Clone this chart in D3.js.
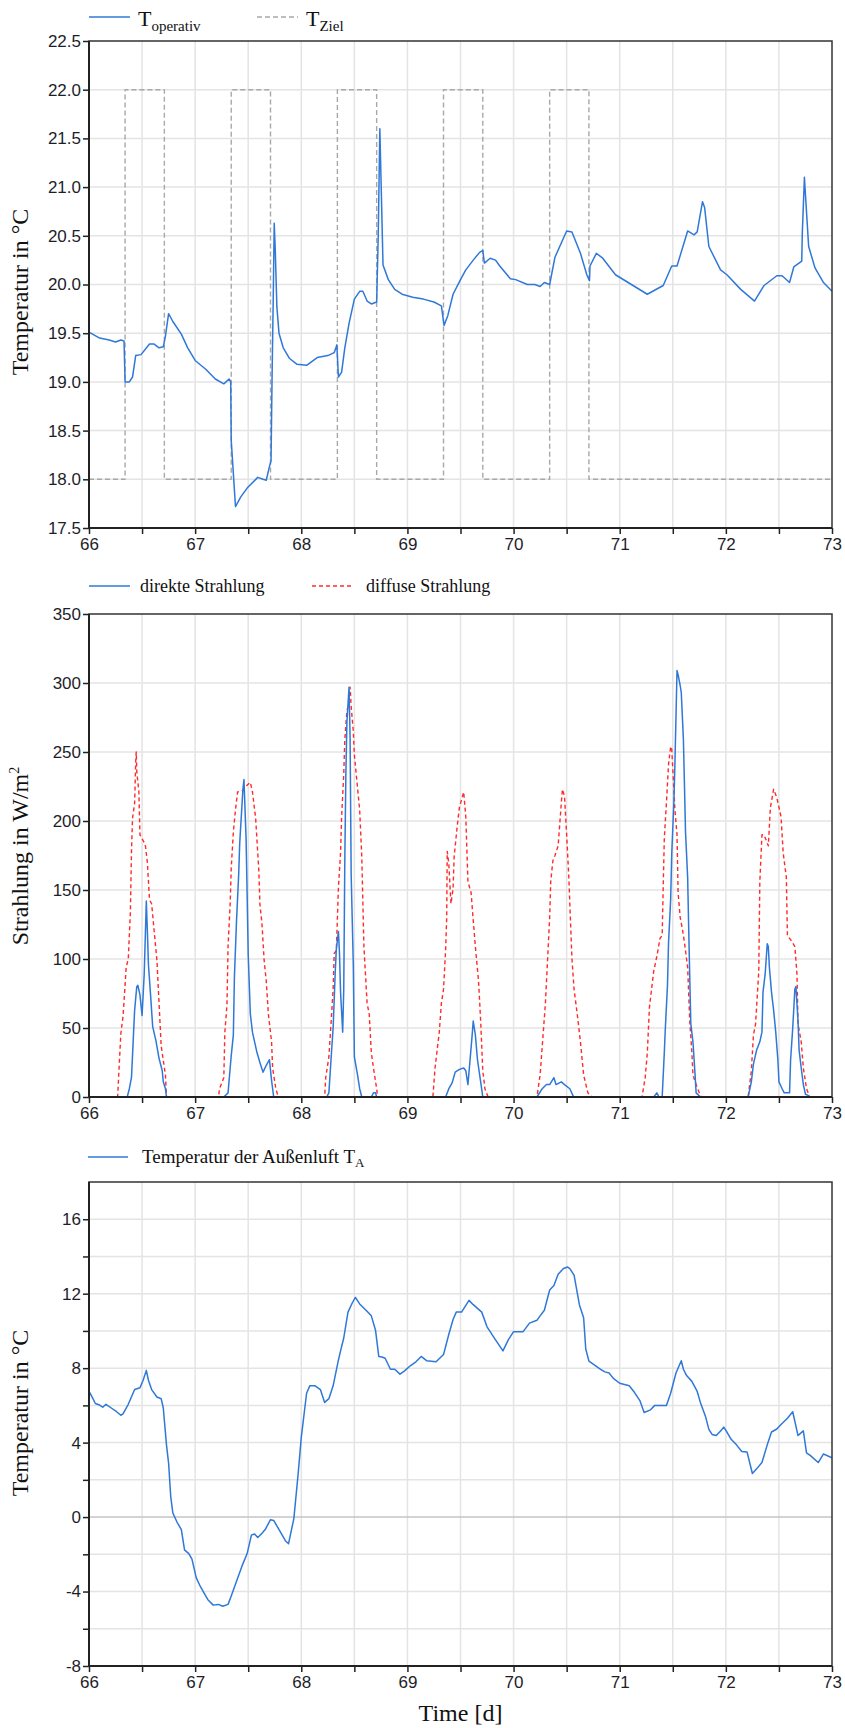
<!DOCTYPE html>
<html><head><meta charset="utf-8">
<script src="https://cdn.jsdelivr.net/npm/d3@7"></script>
<style>body{margin:0;background:#fff}svg{display:block}</style>
</head><body>
<svg id="c" width="845" height="1728"></svg>
<script>
// ---------- DATA ----------
const xTickDays = [66,66.5,67,67.5,68,68.5,69,69.5,70,70.5,71,71.5,72,72.5,73];

const tOpDays = [66.00,66.10,66.19,66.25,66.30,66.33,66.34,66.38,66.41,66.44,66.49,66.57,66.61,66.66,66.70,66.72,66.75,66.79,66.87,66.93,67.00,67.10,67.19,67.27,67.32,67.335,67.34,67.38,67.43,67.49,67.59,67.64,67.67,67.70,67.715,67.725,67.735,67.745,67.755,67.77,67.79,67.83,67.89,67.96,68.05,68.15,68.25,68.31,68.335,68.35,68.38,68.41,68.45,68.50,68.55,68.58,68.62,68.66,68.71,68.725,68.74,68.755,68.77,68.82,68.88,68.95,69.05,69.15,69.25,69.32,69.345,69.38,69.43,69.50,69.55,69.62,69.68,69.71,69.725,69.78,69.83,69.87,69.97,70.02,70.13,70.20,70.25,70.29,70.34,70.39,70.50,70.55,70.63,70.69,70.715,70.72,70.78,70.84,70.96,71.11,71.26,71.41,71.49,71.54,71.64,71.70,71.73,71.78,71.80,71.84,71.95,72.01,72.14,72.27,72.36,72.48,72.53,72.60,72.64,72.715,72.72,72.74,72.75,72.78,72.84,72.92,73.00];
const tOpValues = [19.51,19.45,19.43,19.41,19.43,19.42,19.00,19.00,19.05,19.27,19.28,19.39,19.39,19.35,19.36,19.47,19.70,19.62,19.49,19.35,19.22,19.13,19.03,18.98,19.03,19.00,18.40,17.72,17.82,17.91,18.02,18.00,17.99,18.13,18.19,19.07,19.80,20.63,20.35,19.77,19.50,19.35,19.24,19.18,19.17,19.25,19.27,19.30,19.38,19.05,19.10,19.35,19.60,19.85,19.93,19.93,19.83,19.80,19.82,20.50,21.60,20.90,20.20,20.05,19.95,19.90,19.87,19.85,19.82,19.78,19.58,19.68,19.90,20.05,20.15,20.25,20.33,20.35,20.22,20.27,20.25,20.19,20.06,20.05,20.00,20.00,19.98,20.02,20.00,20.28,20.55,20.54,20.32,20.10,20.04,20.19,20.32,20.27,20.10,20.00,19.90,19.99,20.19,20.19,20.55,20.51,20.54,20.85,20.79,20.39,20.15,20.10,19.95,19.83,19.99,20.09,20.09,20.02,20.18,20.24,20.52,21.10,20.92,20.39,20.17,20.02,19.93];

const tZielDays = [66,66.34,66.71,67.34,67.71,68.34,68.71,69.34,69.71,70.34,70.71,73];
const tZielValues = [18,22,18,22,18,22,18,22,18,22,18,18];

const directDays = [66,66.36,66.38,66.40,66.41,66.42,66.43,66.45,66.46,66.48,66.50,66.52,66.53,66.54,66.55,66.56,66.58,66.60,66.63,66.66,66.69,66.70,66.72,66.73,
 67.27,67.31,67.33,67.34,67.36,67.37,67.39,67.41,67.42,67.44,67.45,67.46,67.48,67.49,67.50,67.52,67.54,67.58,67.61,67.64,67.67,67.70,67.72,67.74,
 68.24,68.26,68.28,68.30,68.32,68.33,68.35,68.36,68.37,68.39,68.40,68.41,68.42,68.43,68.45,68.46,68.47,68.49,68.50,68.53,68.55,68.57,68.66,68.68,68.70,68.71,
 69.36,69.39,69.42,69.45,69.49,69.53,69.55,69.57,69.59,69.61,69.62,69.64,69.66,69.69,69.71,
 70.22,70.27,70.31,70.34,70.38,70.40,70.45,70.48,70.53,70.56,70.57,
 71.32,71.35,71.37,71.40,71.41,71.42,71.43,71.45,71.46,71.48,71.49,71.51,71.52,71.53,71.54,71.55,71.57,71.58,71.60,71.61,71.62,71.64,71.65,71.66,71.67,71.69,71.71,71.72,71.76,
 72.21,72.24,72.26,72.29,72.32,72.34,72.35,72.37,72.39,72.40,72.41,72.43,72.45,72.47,72.49,72.50,72.53,72.55,72.60,72.61,72.63,72.65,72.66,72.68,72.69,72.71,72.73,72.75,72.78,72.79,73];
const directValues = [0,0,6,14,30,47,63,80,81,74,59,89,115,142,120,96,74,51,41,28,19,11,6,0,
 0,3,21,30,45,87,128,161,184,210,223,230,187,146,103,60,47,33,25,18,23,27,12,0,
 0,3,27,50,91,107,120,104,76,47,78,171,234,272,297,259,161,96,29,16,6,0,0,3,3,0,
 0,6,10,18,20,21,19,9,27,45,55,45,27,11,0,
 0,6,9,9,14,9,11,9,6,1,0,
 0,3,0,0,16,32,50,81,112,143,176,213,241,275,309,306,298,293,259,226,192,159,122,86,53,40,16,3,0,
 0,11,24,34,40,47,76,89,111,109,94,76,63,47,27,11,6,3,3,27,50,78,80,55,34,21,9,2,1,0,0];

const diffuseDays = [66,66.27,66.28,66.30,66.32,66.33,66.35,66.37,66.38,66.39,66.40,66.41,66.43,66.44,66.445,66.45,66.47,66.48,66.53,66.55,66.57,66.59,66.64,66.66,66.68,66.72,66.73,
 67.22,67.23,67.27,67.28,67.30,67.31,67.33,67.34,67.36,67.38,67.40,67.45,67.49,67.52,67.54,67.57,67.60,67.61,67.63,67.65,67.67,67.69,67.72,67.73,67.76,67.78,67.79,
 68.22,68.23,68.26,68.28,68.30,68.31,68.33,68.35,68.37,68.38,68.40,68.41,68.43,68.45,68.46,68.47,68.49,68.50,68.53,68.55,68.57,68.59,68.62,68.64,68.66,68.68,68.71,68.72,
 69.24,69.26,69.30,69.32,69.34,69.36,69.37,69.375,69.39,69.41,69.43,69.44,69.47,69.49,69.53,69.55,69.57,69.60,69.62,69.64,69.67,69.69,69.71,69.73,69.76,
 70.22,70.25,70.28,70.30,70.32,70.34,70.35,70.37,70.39,70.42,70.44,70.46,70.48,70.50,70.52,70.53,70.55,70.57,70.60,70.63,70.66,70.70,70.74,
 71.21,71.24,71.26,71.28,71.32,71.35,71.38,71.40,71.41,71.42,71.44,71.46,71.48,71.49,71.51,71.52,71.54,71.55,71.57,71.59,71.61,71.64,71.66,71.68,71.69,71.72,71.76,71.77,
 72.21,72.24,72.26,72.28,72.31,72.32,72.34,72.36,72.39,72.40,72.42,72.45,72.48,72.52,72.54,72.57,72.58,72.62,72.65,72.67,72.68,72.71,72.73,72.76,72.79,73];
const diffuseValues = [0,0,16,46,58,69,94,100,117,134,177,202,213,243,250,236,221,190,183,170,143,140,99,68,37,16,0,
 0,6,14,47,67,109,140,166,192,208,221,222,226,228,221,202,164,140,125,99,84,60,40,21,6,1,0,
 0,14,29,53,78,104,106,152,177,203,234,259,280,285,297,283,265,248,224,208,174,109,68,60,32,21,6,0,
 0,21,47,68,78,107,130,178,169,140,151,174,197,210,221,203,156,148,128,109,84,55,19,6,0,
 0,16,47,68,99,130,156,171,175,182,203,223,218,190,160,140,100,78,60,40,16,3,0,
 0,14,32,65,91,102,115,117,153,187,213,241,254,252,223,208,190,148,130,122,112,94,55,32,16,9,1,0,
 0,19,45,53,91,156,190,190,184,182,210,223,217,203,177,159,117,113,109,89,53,40,21,6,0,0];

const outDays = [66.00,66.02,66.06,66.10,66.13,66.16,66.21,66.26,66.30,66.32,66.37,66.43,66.48,66.51,66.54,66.56,66.59,66.64,66.68,66.70,66.73,66.75,66.77,66.79,66.83,66.87,66.90,66.94,66.97,67.01,67.05,67.09,67.12,67.17,67.22,67.26,67.31,67.34,67.39,67.44,67.49,67.53,67.56,67.59,67.63,67.66,67.71,67.74,67.80,67.85,67.88,67.93,67.97,68.00,68.05,68.08,68.13,68.18,68.22,68.26,68.30,68.35,68.37,68.40,68.44,68.48,68.51,68.55,68.61,68.66,68.70,68.73,68.76,68.79,68.84,68.88,68.93,68.97,69.03,69.08,69.13,69.18,69.27,69.34,69.39,69.43,69.46,69.51,69.58,69.62,69.70,69.75,69.83,69.90,69.95,70.00,70.09,70.15,70.22,70.25,70.29,70.34,70.38,70.42,70.47,70.51,70.53,70.57,70.62,70.66,70.68,70.71,70.77,70.82,70.86,70.90,70.94,71.00,71.09,71.14,71.19,71.23,71.29,71.33,71.44,71.48,71.53,71.58,71.60,71.63,71.68,71.73,71.76,71.81,71.84,71.87,71.91,71.95,71.98,72.01,72.05,72.10,72.15,72.20,72.25,72.29,72.34,72.39,72.43,72.48,72.52,72.58,72.63,72.68,72.70,72.73,72.76,72.80,72.87,72.92,73.00];
const outValues = [6.75,6.55,6.10,6.02,5.90,6.06,5.86,5.66,5.47,5.54,6.06,6.85,6.95,7.35,7.88,7.35,6.85,6.45,6.36,5.86,3.88,2.89,1.10,0.22,-0.28,-0.67,-1.76,-1.96,-2.26,-3.25,-3.74,-4.14,-4.44,-4.73,-4.69,-4.79,-4.69,-4.24,-3.45,-2.65,-1.96,-0.97,-0.91,-1.10,-0.87,-0.67,-0.14,-0.18,-0.77,-1.27,-1.43,-0.08,2.30,4.28,6.65,7.05,7.05,6.85,6.16,6.36,7.05,8.44,8.93,9.62,11.01,11.50,11.80,11.45,11.11,10.81,10.02,8.63,8.60,8.53,7.94,7.94,7.68,7.84,8.14,8.34,8.63,8.40,8.34,8.73,9.82,10.61,11.01,11.01,11.64,11.41,11.01,10.22,9.52,8.93,9.52,9.96,9.96,10.42,10.57,10.81,11.11,12.20,12.44,13.05,13.35,13.43,13.35,13.00,11.41,10.71,9.03,8.38,8.14,7.94,7.80,7.74,7.45,7.19,7.05,6.69,6.26,5.62,5.76,6.00,6.00,6.65,7.74,8.40,7.94,7.60,7.29,6.75,6.16,5.37,4.71,4.44,4.38,4.63,4.83,4.57,4.18,3.88,3.52,3.49,2.34,2.59,2.93,3.88,4.57,4.73,4.97,5.31,5.66,4.38,4.48,4.63,3.45,3.29,2.93,3.39,3.19];

const yTicks1 = [17.5,18,18.5,19,19.5,20,20.5,21,21.5,22,22.5];
const yTicks2 = [0,50,100,150,200,250,300,350];
const yTicks3 = [-8,-6,-4,-2,0,2,4,6,8,10,12,14,16];

// ---------- DRAW ----------
const svg = d3.select('#c');
const X0 = 89, X1 = 832;
const x = d3.scaleLinear().domain([66,73]).range([X0,X1]);
const BLUE = '#2f78d8', RED = '#ff2b2b', GREY = '#a8a8a8';
const SANS = '"Liberation Sans", Arial, sans-serif';
const SERIF = '"Liberation Serif", "Times New Roman", serif';

let clipId = 0;
function panel(top, bottom, yDomain, yTicks, labelFn, series, zeroLine){
  const y = d3.scaleLinear().domain(yDomain).range([bottom, top]);
  const g = svg.append('g');
  g.append('g').selectAll('line').data(xTickDays.slice(1,-1)).join('line')
    .attr('x1', d=>x(d)).attr('x2', d=>x(d)).attr('y1', top).attr('y2', bottom)
    .attr('stroke', '#e4e4e4').attr('stroke-width', 1.5);
  g.append('g').selectAll('line').data(yTicks.filter(v=>v>yDomain[0] && v<yDomain[1])).join('line')
    .attr('x1', X0).attr('x2', X1).attr('y1', d=>y(d)).attr('y2', d=>y(d))
    .attr('stroke', d => (zeroLine && d===0) ? '#c4c4c4' : '#e4e4e4').attr('stroke-width', 1.5);
  const id = 'clip' + (clipId++);
  svg.append('clipPath').attr('id', id).append('rect')
    .attr('x', X0).attr('y', top-2).attr('width', X1-X0).attr('height', bottom-top+4);
  const sg = g.append('g').attr('clip-path', `url(#${id})`);
  series.forEach(s => {
    const pts = s.days.map((d,i)=>[d, s.values[i]]);
    const line = d3.line().x(d=>x(d[0])).y(d=>y(d[1])).curve(s.step ? d3.curveStepAfter : d3.curveLinear);
    sg.append('path').attr('d', line(pts)).attr('fill','none')
      .attr('stroke', s.color).attr('stroke-width', s.width)
      .attr('stroke-dasharray', s.dash || null).attr('stroke-linejoin','round');
  });
  const ax = g.append('g').attr('transform', `translate(0,${bottom})`)
    .call(d3.axisBottom(x).tickValues(xTickDays).tickSize(6).tickPadding(4)
      .tickFormat(d => Number.isInteger(d) ? d : ''));
  const ay = g.append('g').attr('transform', `translate(${X0},0)`)
    .call(d3.axisLeft(y).tickValues(yTicks).tickSize(6).tickPadding(2).tickFormat(labelFn));
  [ax, ay].forEach(a => {
    a.select('.domain').remove();
    a.selectAll('line').attr('stroke', '#222').attr('stroke-width', 1.5);
    a.selectAll('text').attr('font-family', SANS).attr('font-size', 17).attr('fill', '#1e1e2a');
  });
  g.append('rect').attr('x', X0).attr('y', top).attr('width', X1-X0).attr('height', bottom-top)
    .attr('fill','none').attr('stroke','#333').attr('stroke-width',1.5);
  g.append('line').attr('x1',X0).attr('x2',X0).attr('y1',top).attr('y2',bottom).attr('stroke','#222').attr('stroke-width',2);
  g.append('line').attr('x1',X0).attr('x2',X1).attr('y1',bottom).attr('y2',bottom).attr('stroke','#222').attr('stroke-width',2);
  return y;
}

function legendLine(x1, x2, yy, color, dash){
  svg.append('line').attr('x1',x1).attr('x2',x2).attr('y1',yy).attr('y2',yy)
    .attr('stroke',color).attr('stroke-width',1.5).attr('stroke-dasharray',dash||null);
}
function yTitle(cx, cy, build){
  const t = svg.append('text').attr('transform', `translate(${cx},${cy}) rotate(-90)`)
    .attr('text-anchor','middle').attr('font-family',SERIF).attr('font-size',24).attr('fill','#111');
  build(t);
}

// Panel 1
panel(41, 528, [17.5,22.5], yTicks1, d=>d.toFixed(1), [
  {days:tZielDays, values:tZielValues, color:GREY, width:1.4, dash:'5,3', step:true},
  {days:tOpDays, values:tOpValues, color:BLUE, width:1.5}
]);
legendLine(89,130,17,BLUE);
{
  const t = svg.append('text').attr('x',138).attr('y',26).attr('font-family',SERIF).attr('fill','#111');
  t.append('tspan').attr('font-size',22).text('T');
  t.append('tspan').attr('font-size',15).attr('dy',5).text('operativ');
}
legendLine(257,298,17,GREY,'5,3');
{
  const t = svg.append('text').attr('x',306).attr('y',26).attr('font-family',SERIF).attr('fill','#111');
  t.append('tspan').attr('font-size',22).text('T');
  t.append('tspan').attr('font-size',15).attr('dy',5).text('Ziel');
}
yTitle(28, 292, t => t.text('Temperatur in °C'));

// Panel 2
panel(614, 1097, [0,350], yTicks2, d=>d, [
  {days:diffuseDays, values:diffuseValues, color:RED, width:1.4, dash:'4,3'},
  {days:directDays, values:directValues, color:BLUE, width:1.5}
]);
legendLine(89,130,586,BLUE);
svg.append('text').attr('x',140).attr('y',592).attr('font-family',SERIF).attr('font-size',18).attr('fill','#111').text('direkte Strahlung');
legendLine(312,354,586,RED,'4,3');
svg.append('text').attr('x',366).attr('y',592).attr('font-family',SERIF).attr('font-size',18).attr('fill','#111').text('diffuse Strahlung');
yTitle(28, 856, t => { t.append('tspan').text('Strahlung in W/m'); t.append('tspan').attr('font-size',14).attr('dy',-9).text('2'); });

// Panel 3
panel(1182, 1666, [-8,18], yTicks3, d => (d % 4 === 0 ? d : ''), [
  {days:outDays, values:outValues, color:BLUE, width:1.5}
], true);
legendLine(88,128,1157,BLUE);
{
  const t = svg.append('text').attr('x',142).attr('y',1163).attr('font-family',SERIF).attr('fill','#111');
  t.append('tspan').attr('font-size',19).text('Temperatur der Außenluft T');
  t.append('tspan').attr('font-size',13).attr('dy',4).text('A');
}
yTitle(28, 1413, t => t.text('Temperatur in °C'));
svg.append('text').attr('x',(X0+X1)/2).attr('y',1721).attr('text-anchor','middle')
  .attr('font-family',SERIF).attr('font-size',24).attr('fill','#111').text('Time [d]');
</script>
</body></html>
